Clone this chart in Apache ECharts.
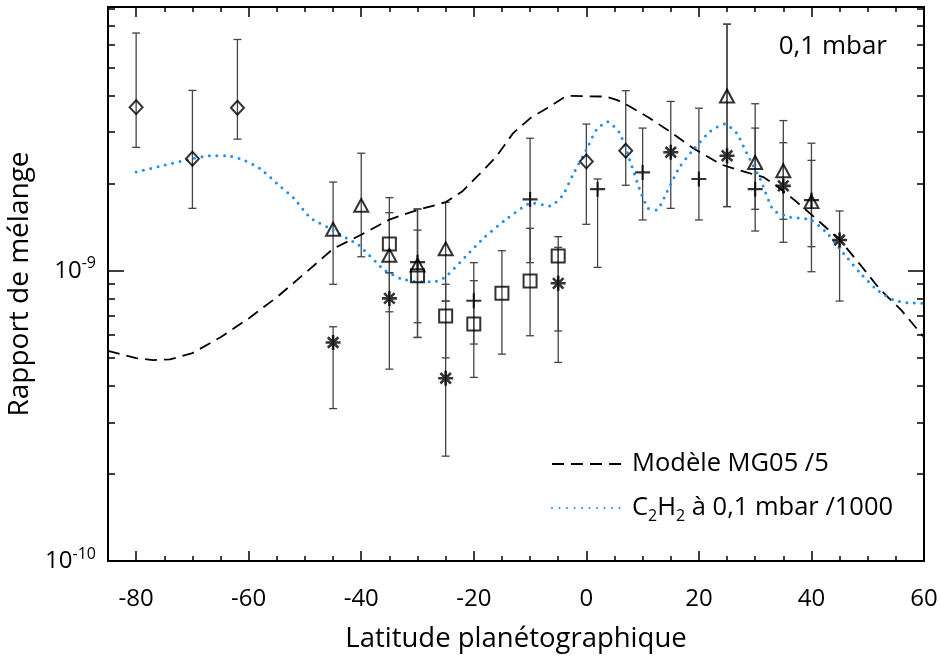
<!DOCTYPE html>
<html>
<head>
<meta charset="utf-8">
<script src="https://cdn.jsdelivr.net/npm/echarts@6.0.0/dist/echarts.min.js"></script>
<style>
html, body { margin: 0; padding: 0; background: #fff; }
#chart { width: 941px; height: 659px; }
</style>
</head>
<body>
<div id="chart"></div>
<script>
// toutes les valeurs de rapport de mélange sont en unités de 1e-9
var E = 1e-9;

var xTicks = [-80, -60, -40, -20, 0, 20, 40, 60];
var xMinorTicks = [-75, -70, -65, -55, -50, -45, -35, -30, -25, -15, -10, -5, 5, 10, 15, 25, 30, 35, 45, 50, 55];
var yTicks = [1e-10, 1e-9];
var yMinorTicks = [2e-10, 3e-10, 4e-10, 5e-10, 6e-10, 7e-10, 8e-10, 9e-10, 2e-9, 3e-9, 4e-9, 5e-9, 6e-9, 7e-9, 8e-9];

// Modèle MG05 /5 (tirets)
var modelLat = [-85, -80, -77, -74, -70, -65, -60, -55, -50, -45, -40, -35, -30, -25, -22, -19, -16, -13, -10, -7, -4, -3,
    3.5, 5.5, 7.5, 11, 15, 19, 24, 28.5, 31.5, 33.5, 37, 40.5, 45, 49, 52, 56, 60];
var modelVal = [0.53, 0.50, 0.492, 0.495, 0.52, 0.59, 0.685, 0.81, 0.98, 1.19, 1.33, 1.50, 1.62, 1.72, 1.88, 2.15, 2.47, 2.98, 3.35, 3.63, 3.95, 4.0,
    3.98, 3.87, 3.7, 3.38, 3.0, 2.64, 2.32, 2.18, 2.1, 1.98, 1.75, 1.53, 1.28, 1.03, 0.87, 0.73, 0.59];

// C2H2 à 0,1 mbar /1000 (pointillés bleus)
var c2h2Lat = [-80, -75, -70, -67, -64, -61, -58, -55, -52, -49, -45, -42.5, -40.5, -36, -33, -30, -27, -25, -21.5, -18, -14,
    -10.7, -9.5, -6.5, -4.2, -2.4, 0, 1.8, 3.8, 5.9, 7.7, 9.5, 11, 12.5, 14.2, 16.6, 19, 22, 24.6, 26.7, 28.5, 31, 33.2,
    36.2, 39.8, 42.8, 45.7, 48.7, 51.6, 54.6, 57, 60];
var c2h2Val = [2.19, 2.31, 2.43, 2.49, 2.49, 2.41, 2.25, 2.0, 1.78, 1.52, 1.38, 1.29, 1.23, 1.01, 0.94, 0.916, 0.916, 0.953, 1.117, 1.31, 1.516,
    1.685, 1.71, 1.67, 1.82, 2.14, 2.61, 3.06, 3.26, 2.98, 2.41, 1.90, 1.64, 1.62, 1.85, 2.28, 2.61, 3.02, 3.2, 2.98, 2.54, 2.05, 1.62,
    1.53, 1.50, 1.346, 1.148, 0.98, 0.861, 0.792, 0.776, 0.772];

// mesures (losanges)
var diamondLat = [-80, -70, -62, 0, 7];
var diamondVal = [3.66, 2.43, 3.64, 2.38, 2.59];
var diamondLow = [2.66, 1.64, 2.84, 1.445, 1.97];
var diamondHigh = [6.59, 4.18, 6.26, 3.20, 4.17];

// triangles
var triangleLat = [-45, -40, -35, -30, -25, 25, 30, 35, 40];
var triangleVal = [1.39, 1.68, 1.13, 1.046, 1.19, 4.0, 2.36, 2.21, 1.73];
var triangleLow = [0.898, 1.117, 0.984, 0.589, 0.786, 1.663, 1.628, 1.504, 0.992];
var triangleHigh = [2.02, 2.54, 1.585, 1.632, 1.72, 7.07, 3.76, 3.29, 2.75];

// carrés
var squareLat = [-35, -30, -25, -20, -15, -10, -5];
var squareVal = [1.236, 0.961, 0.698, 0.655, 0.836, 0.921, 1.124];
var squareLow = [0.722, 0.662, 0.501, 0.429, 0.516, 0.597, 0.620];
var squareHigh = [1.785, 1.38, 0.898, 0.924, 1.172, 1.40, 1.31];

// astérisques
var starLat = [-45, -35, -25, -5, 15, 25, 35, 45];
var starVal = [0.566, 0.803, 0.426, 0.905, 2.56, 2.49, 1.96, 1.276];
var starLow = [0.335, 0.458, 0.2297, 0.483, 1.64, 1.663, 1.253, 0.786];
var starHigh = [0.641, 0.984, 0.786, 1.204, 3.83, 7.07, 2.76, 1.606];

// croix
var plusLat = [-30, -20, -10, 2, 10, 20, 30, 40];
var plusVal = [1.07, 0.788, 1.76, 1.91, 2.18, 2.07, 1.91, 1.75];
var plusLow = [0.589, 0.559, 1.066, 1.027, 1.496, 1.496, 1.37, 1.21];
var plusHigh = [1.632, 1.066, 2.86, 2.07, 3.10, 3.63, 3.10, 2.40];

var font = 'Open Sans';
var nameModel = 'Modèle MG05 /5';
var nameC2h2 = 'C2H2 à 0,1 mbar /1000';

function pts(lat, val) {
    return lat.map(function (x, i) { return [x, val[i] * E]; });
}
function bars(lat, low, high) {
    return lat.map(function (x, i) { return [x, low[i] * E, high[i] * E]; });
}

var errData = [].concat(
    bars(diamondLat, diamondLow, diamondHigh),
    bars(triangleLat, triangleLow, triangleHigh),
    bars(squareLat, squareLow, squareHigh),
    bars(starLat, starLow, starHigh),
    bars(plusLat, plusLow, plusHigh)
);

function renderErrorBar(params, api) {
    var top = api.coord([api.value(0), api.value(2)]);
    var bot = api.coord([api.value(0), api.value(1)]);
    var w = 4;
    var st = { stroke: '#444', lineWidth: 1.3 };
    return {
        type: 'group',
        children: [
            { type: 'line', shape: { x1: top[0], y1: top[1], x2: bot[0], y2: bot[1] }, style: st },
            { type: 'line', shape: { x1: top[0] - w, y1: top[1], x2: top[0] + w, y2: top[1] }, style: st },
            { type: 'line', shape: { x1: bot[0] - w, y1: bot[1], x2: bot[0] + w, y2: bot[1] }, style: st }
        ]
    };
}

function scatter(data, symbol, size, bw) {
    return {
        type: 'scatter', data: data, symbol: symbol, symbolSize: size,
        itemStyle: { color: 'rgba(0,0,0,0)', borderColor: '#000', borderWidth: bw || 2 },
        z: 5, silent: true
    };
}

function xAxisCfg(pos, ticks, len, main) {
    return {
        type: 'value', position: pos, min: -85, max: 60,
        axisLine: { show: main, onZero: false, lineStyle: { color: '#000', width: 2 } },
        axisTick: { inside: true, length: len, customValues: ticks, lineStyle: { color: '#000', width: 1.5 } },
        axisLabel: { show: false },
        splitLine: { show: false }
    };
}
function yAxisCfg(pos, ticks, len, main) {
    return {
        type: 'log', logBase: 10, position: pos, min: 1e-10, max: 8.1e-9,
        axisLine: { show: main, onZero: false, lineStyle: { color: '#000', width: 2 } },
        axisTick: { inside: true, length: len, customValues: ticks, lineStyle: { color: '#000', width: 1.5 } },
        axisLabel: { show: false },
        splitLine: { show: false }
    };
}

var xMain = xAxisCfg('bottom', xTicks, 10, true);
xMain.axisLabel = {
    show: true, customValues: xTicks, margin: 26, fontSize: 24, color: '#000', fontFamily: font
};
xMain.name = 'Latitude planétographique';
xMain.nameLocation = 'middle';
xMain.nameGap = 64;
xMain.nameTextStyle = { fontSize: 27.5, color: '#000', fontFamily: font };

var yMain = yAxisCfg('left', yTicks, 16, true);
yMain.axisLabel = {
    show: true, customValues: yTicks, margin: 12, color: '#000', fontFamily: font,
    formatter: function (v) {
        return '{b|10}{s|' + Math.round(Math.log10(v)) + '}';
    },
    rich: {
        b: { fontSize: 24, lineHeight: 30, fontFamily: font, color: '#000' },
        s: { fontSize: 16, lineHeight: 16, verticalAlign: 'top', fontFamily: font, color: '#000' }
    }
};
yMain.name = 'Rapport de mélange';
yMain.nameLocation = 'middle';
yMain.nameGap = 70;
yMain.nameTextStyle = { fontSize: 28, color: '#000', fontFamily: font };

var chart = echarts.init(document.getElementById('chart'));
chart.setOption({
    animation: false,
    backgroundColor: '#fff',
    grid: { left: 108, right: 17, top: 7, bottom: 98, containLabel: false, outerBoundsMode: 'none' },
    xAxis: [
        xMain,
        xAxisCfg('bottom', xMinorTicks, 5, false),
        xAxisCfg('top', xTicks, 10, true),
        xAxisCfg('top', xMinorTicks, 5, false)
    ],
    yAxis: [
        yMain,
        yAxisCfg('left', yMinorTicks, 7, false),
        yAxisCfg('right', yTicks, 16, true),
        yAxisCfg('right', yMinorTicks, 7, false)
    ],
    legend: {
        data: [nameModel, nameC2h2],
        orient: 'vertical',
        left: 546, top: 446,
        itemWidth: 70, itemHeight: 14, itemGap: 18,
        selectedMode: false,
        itemStyle: { opacity: 0 },
        formatter: function (name) {
            if (name === nameC2h2) {
                return '{m|C}{sub|2}{m|H}{sub|2}{m| à 0,1 mbar /1000}';
            }
            return '{m|' + name + '}';
        },
        textStyle: {
            color: '#000', fontFamily: font, fontSize: 25.5, padding: [0, 0, 0, 5],
            rich: {
                m: { fontSize: 25.5, lineHeight: 32, fontFamily: font, color: '#000' },
                sub: { fontSize: 16, lineHeight: 14, verticalAlign: 'bottom', fontFamily: font, color: '#000' }
            }
        }
    },
    graphic: [{
        type: 'text', right: 54, top: 34,
        style: { text: '0,1 mbar', fontSize: 26, fontFamily: font, fill: '#000' }
    }],
    series: [
        {
            type: 'custom', renderItem: renderErrorBar, data: errData,
            encode: { x: 0, y: [1, 2] }, z: 2, silent: true
        },
        {
            name: nameModel, type: 'line', data: pts(modelLat, modelVal),
            symbol: 'none', smooth: false, z: 4,
            itemStyle: { color: '#000' },
            lineStyle: { color: '#000', width: 1.8, type: [12, 7] }
        },
        {
            name: nameC2h2, type: 'line', data: pts(c2h2Lat, c2h2Val),
            symbol: 'none', smooth: 0.2, z: 4,
            itemStyle: { color: '#1E8FF0' },
            lineStyle: { color: '#1E8FF0', width: 3, type: [0, 7.5], cap: 'round' }
        },
        scatter(pts(diamondLat, diamondVal), 'diamond', [13, 14]),
        scatter(pts(triangleLat, triangleVal), 'triangle', [14, 13]),
        scatter(pts(squareLat, squareVal), 'rect', [13, 13]),
        scatter(pts(starLat, starVal), 'path://M0,-10L0,10M-10,0L10,0M-7,-7L7,7M-7,7L7,-7', [15, 15], 2.6),
        scatter(pts(plusLat, plusVal), 'path://M0,-10L0,10M-10,0L10,0', [15, 15], 2.2)
    ]
});
</script>
</body>
</html>
